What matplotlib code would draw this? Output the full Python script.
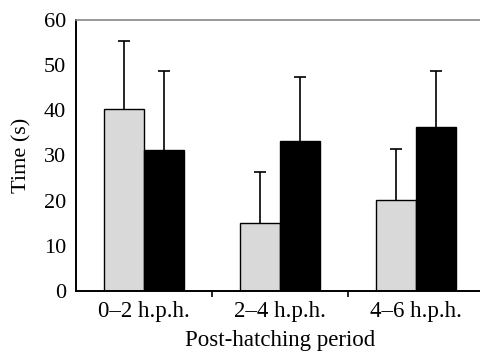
import matplotlib.pyplot as plt
import numpy as np

periodos = ['0–2 h.p.h.', '2–4 h.p.h.', '4–6 h.p.h.']
cinza = [40.4, 15.1, 20.2]
cinza_erro = [15.0, 11.2, 11.3]
preto = [31.2, 33.2, 36.2]
preto_erro = [17.5, 14.2, 12.5]

plt.rcParams['font.family'] = ['Liberation Serif', 'DejaVu Serif']

fig = plt.figure(figsize=(4.81, 3.54), dpi=100)
ax = fig.add_axes([76 / 481, 1 - 291 / 354, (483.6 - 76) / 481, (291 - 20) / 354])

x = np.arange(len(periodos)) + 0.5
w = 0.295
ax.bar(x - w / 2, cinza, w, color='#d9d9d9', edgecolor='black', linewidth=1.0, zorder=2)
ax.bar(x + w / 2, preto, w, color='black', edgecolor='black', linewidth=1.0, zorder=2)

# barras de erro so para cima
for xs, ys, es in [(x - w / 2, cinza, cinza_erro), (x + w / 2, preto, preto_erro)]:
    topo = np.array(ys) + np.array(es)
    ax.vlines(xs, ys, topo, color='black', linewidth=1.2, zorder=1)
    ax.plot(xs, topo, linestyle='none', marker='_', markersize=8,
            markeredgewidth=1.2, color='black', zorder=1)

ax.set_xlim(0, 3)
ax.set_ylim(0, 60)
ax.set_yticks(range(0, 61, 10))
ax.set_xticks([1, 2])
ax.set_xticklabels([])
ax.set_xticks(x, minor=True)
ax.set_xticklabels(periodos, minor=True, fontsize=16.5)
ax.tick_params(axis='x', which='minor', length=0, pad=7)
ax.tick_params(axis='x', which='major', direction='out', length=4, width=1.2)
ax.tick_params(axis='y', length=0, pad=7, labelsize=16)

ax.spines['right'].set_visible(False)
ax.spines['top'].set_color('#888888')
ax.spines['top'].set_linewidth(1.2)
ax.spines['left'].set_linewidth(1.4)
ax.spines['bottom'].set_linewidth(1.4)

ax.set_xlabel('Post-hatching period', fontsize=16.5, labelpad=6)
ax.set_ylabel('Time (s)', fontsize=16, labelpad=9)

fig.savefig('out.png', dpi=100)
